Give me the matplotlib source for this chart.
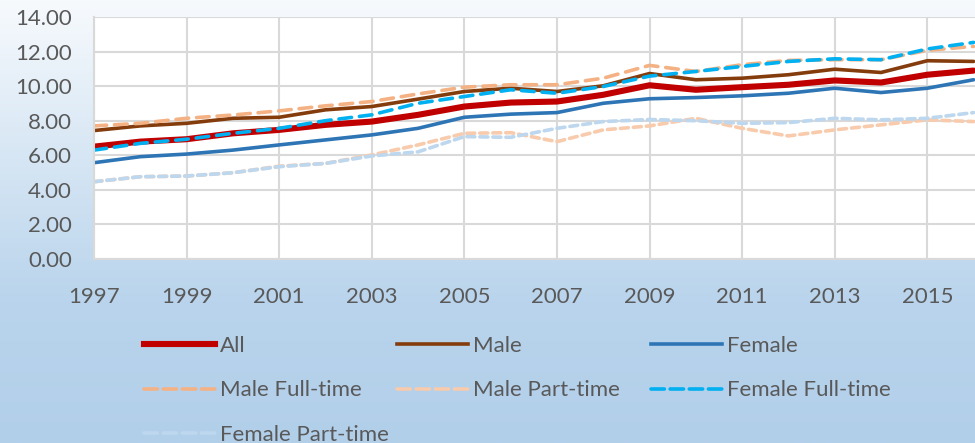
import numpy as np
import matplotlib.pyplot as plt
from matplotlib.colors import LinearSegmentedColormap
from matplotlib.lines import Line2D

# --- Data -------------------------------------------------------------------
YEARS = list(range(1997, 2017))

ALL = [6.50, 6.79, 6.93, 7.27, 7.47, 7.76, 7.95, 8.34, 8.82, 9.05,
       9.11, 9.50, 10.05, 9.79, 9.94, 10.08, 10.33, 10.21, 10.66, 10.90]
MALE = [7.43, 7.70, 7.85, 8.14, 8.20, 8.63, 8.82, 9.25, 9.69, 9.88,
        9.69, 10.02, 10.73, 10.37, 10.46, 10.66, 10.98, 10.79, 11.47, 11.43]
FEMALE = [5.57, 5.92, 6.07, 6.30, 6.60, 6.89, 7.18, 7.56, 8.20, 8.38,
          8.47, 9.01, 9.27, 9.34, 9.44, 9.59, 9.88, 9.63, 9.88, 10.37]
MALE_FT = [7.70, 7.85, 8.14, 8.33, 8.57, 8.86, 9.11, 9.55, 9.94, 10.08,
           10.08, 10.46, 11.20, 10.85, 11.24, 11.49, 11.53, 11.53, 12.07, 12.30]
MALE_PT = [4.47, 4.76, 4.80, 4.99, 5.37, 5.53, 6.02, 6.60, 7.27, 7.31,
           6.79, 7.47, 7.70, 8.14, 7.56, 7.12, 7.47, 7.76, 8.05, 7.95]
FEMALE_FT = [6.30, 6.69, 6.93, 7.27, 7.56, 8.00, 8.34, 9.01, 9.40, 9.79,
             9.59, 9.98, 10.58, 10.85, 11.14, 11.43, 11.58, 11.53, 12.15, 12.53]
FEMALE_PT = [4.47, 4.76, 4.80, 4.99, 5.34, 5.53, 5.96, 6.20, 7.08, 7.04,
             7.56, 7.95, 8.07, 8.00, 7.85, 7.89, 8.14, 8.05, 8.14, 8.47]

SERIES = [
    ("All", ALL, "#C00000", 4.4, None),
    ("Male", MALE, "#843C0C", 2.6, None),
    ("Female", FEMALE, "#2E75B6", 2.6, None),
    ("Male Full-time", MALE_FT, "#F4B183", 2.6, (0, (3.5, 2.2))),
    ("Male Part-time", MALE_PT, "#F8CBAD", 2.6, (0, (2.2, 1.4))),
    ("Female Full-time", FEMALE_FT, "#00B0F0", 2.6, (0, (3.5, 2.2))),
    ("Female Part-time", FEMALE_PT, "#BDD7EE", 2.6, (0, (2.2, 1.4))),
]

# legend columns, in the order the original lays them out (row by row)
LEGEND_COLS = [
    ["All", "Male Full-time", "Female Part-time"],
    ["Male", "Male Part-time"],
    ["Female", "Female Full-time"],
]

TEXT = "#595959"
GRID = "#D9D9D9"
W, H = 975, 443


def main():
    plt.rcParams["font.family"] = ["Lato", "DejaVu Sans"]

    fig = plt.figure(figsize=(W / 100, H / 100), dpi=100)

    # gradient background over the whole figure
    bg = fig.add_axes([0, 0, 1, 1], zorder=-10)
    cmap = LinearSegmentedColormap.from_list(
        "bg", [(0.0, "#F7FAFD"), (0.68, "#B9D4EC"), (1.0, "#B2CFEA")])
    grad = np.linspace(0, 1, 256).reshape(-1, 1)
    bg.imshow(grad, aspect="auto", cmap=cmap, extent=[0, 1, 0, 1],
              origin="upper")
    bg.axis("off")

    ax = fig.add_axes([94 / W, 1 - 259 / H, 1 - 94 / W, 242 / H])
    ax.set_facecolor("white")

    handles = {}
    for name, vals, color, lw, dashes in SERIES:
        line, = ax.plot(YEARS, vals, color=color, lw=lw, label=name,
                        solid_capstyle="round", dash_capstyle="round")
        if dashes is not None:
            line.set_linestyle(dashes)
        handles[name] = line

    ax.set_xlim(1997, 2016.03)
    ax.set_ylim(0, 14)
    ax.set_xticks(range(1997, 2017, 2))
    yt = np.arange(0, 14.01, 2)
    ax.set_yticks(yt)
    ax.set_yticklabels([f"{v:.2f}" for v in yt])
    ax.grid(True, color=GRID, lw=1.5)
    ax.set_axisbelow(True)
    for side in ["top", "right"]:
        ax.spines[side].set_visible(False)
    for side in ["left", "bottom"]:
        ax.spines[side].set_color(GRID)
        ax.spines[side].set_linewidth(1.5)
    ax.tick_params(length=0, labelsize=16, colors=TEXT)
    ax.tick_params(axis="y", pad=16)
    ax.tick_params(axis="x", pad=20)

    col_x = [144, 397, 651]
    for x0, names in zip(col_x, LEGEND_COLS):
        hs = []
        for name in names:
            h = handles[name]
            hs.append(Line2D([], [], color=h.get_color(),
                             lw=h.get_linewidth(),
                             linestyle=h.get_linestyle(),
                             dash_capstyle="round"))
        leg = fig.legend(hs, names, loc="upper left",
                         bbox_to_anchor=(x0 / W, 1 - 336 / H),
                         frameon=False, fontsize=16, handlelength=3.2,
                         handletextpad=0.22, labelspacing=1.1,
                         borderpad=0, borderaxespad=0)
        for t in leg.get_texts():
            t.set_color(TEXT)

    fig.savefig("out.png", dpi=100)


if __name__ == "__main__":
    main()
